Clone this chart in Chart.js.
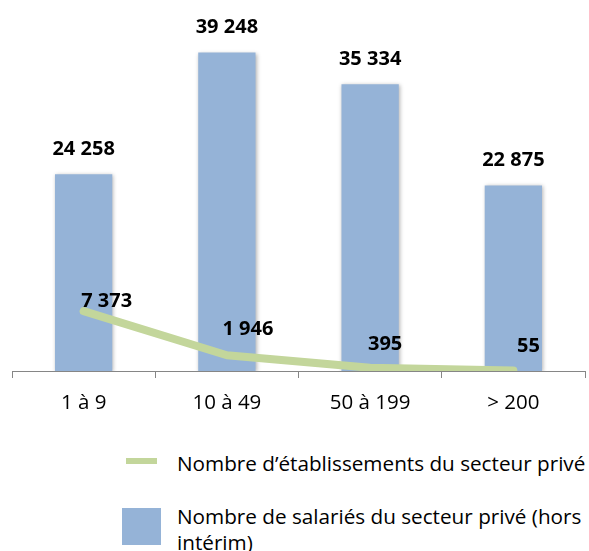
<!DOCTYPE html>
<html><head><meta charset="utf-8">
<script src="https://cdn.jsdelivr.net/npm/chart.js@4/dist/chart.umd.min.js"></script>
<style>
body{margin:0;background:#fff;font-family:"Open Sans",sans-serif;overflow:hidden;}
#wrap{position:absolute;left:0;top:0;width:589px;height:420px;}
.lgline{position:absolute;left:126px;top:458px;width:31px;height:6px;background:#c3d69b;}
.lgbox{position:absolute;left:122px;top:508px;width:39px;height:37px;background:#95b3d7;}
.lgtext{position:absolute;left:177px;font-size:20.7px;line-height:26px;color:#000;white-space:pre;}
</style></head><body>
<div id="wrap"><canvas id="c"></canvas></div>
<div class="lgline"></div><div class="lgtext" id="t1" style="top:450px"></div>
<div class="lgbox"></div><div class="lgtext" id="t2" style="top:503px"></div>
<script>
const categories = ["1 à 9", "10 à 49", "50 à 199", "> 200"];
const salaries = [24258, 39248, 35334, 22875];
const etablissements = [7373, 1946, 395, 55];
const seriesNames = ["Nombre d’établissements du secteur privé", "Nombre de salariés du secteur privé (hors intérim)"];

document.getElementById('t1').textContent = seriesNames[0];
document.getElementById('t2').textContent = seriesNames[1].replace(' intérim', '\nintérim');

const lineLabelOffsets = [[23, -10], [21, -26], [15, -23], [15, -24]];
const fmt = v => v.toString().replace(/\B(?=(\d{3})+(?!\d))/g, ' ');

const labelPlugin = {
  id: 'valueLabels',
  afterDatasetsDraw(chart) {
    const ctx = chart.ctx;
    ctx.save();
    ctx.font = 'bold 20px "Open Sans"';
    ctx.fillStyle = '#000';
    ctx.textAlign = 'center';
    ctx.textBaseline = 'middle';
    chart.getDatasetMeta(1).data.forEach((el, i) => {
      ctx.fillText(fmt(salaries[i]), el.x, el.y - 25);
    });
    chart.getDatasetMeta(0).data.forEach((el, i) => {
      ctx.fillText(fmt(etablissements[i]), el.x + lineLabelOffsets[i][0], el.y + lineLabelOffsets[i][1]);
    });
    ctx.restore();
  }
};
const shadowPlugin = {
  id: 'barShadow',
  beforeDatasetDraw(chart, args) {
    if (args.index === 1) {
      const ctx = chart.ctx;
      ctx.save();
      ctx.shadowColor = 'rgba(0,0,0,0.3)';
      ctx.shadowBlur = 4;
      ctx.shadowOffsetX = 1;
      ctx.shadowOffsetY = 1;
    }
  },
  afterDatasetDraw(chart, args) {
    if (args.index === 1) chart.ctx.restore();
  }
};

new Chart(document.getElementById('c'), {
  data: {
    labels: categories,
    datasets: [
      {
        type: 'line', label: seriesNames[0], data: etablissements,
        borderColor: '#c3d69b', borderWidth: 8, pointRadius: 0,
        borderCapStyle: 'round', borderJoinStyle: 'round', tension: 0, fill: false
      },
      {
        type: 'bar', label: seriesNames[1], data: salaries,
        backgroundColor: '#95b3d7', barPercentage: 0.4, categoryPercentage: 1
      }
    ]
  },
  options: {
    responsive: true, maintainAspectRatio: false, animation: false,
    layout: { padding: { left: 12, right: 4, top: 14, bottom: 9 } },
    plugins: { legend: { display: false }, tooltip: { enabled: false } },
    scales: {
      x: {
        offset: true,
        grid: { offset: true, drawOnChartArea: false, drawTicks: true, tickLength: 7, color: '#868686' },
        border: { display: true, color: '#868686', width: 1 },
        ticks: { font: { family: 'Open Sans', size: 20.5 }, color: '#000', padding: 13 },
        afterFit(a) { a.height = 40; }
      },
      y: { display: false, min: 0, max: 44000 }
    }
  },
  plugins: [labelPlugin, shadowPlugin]
});
</script>
</body></html>
